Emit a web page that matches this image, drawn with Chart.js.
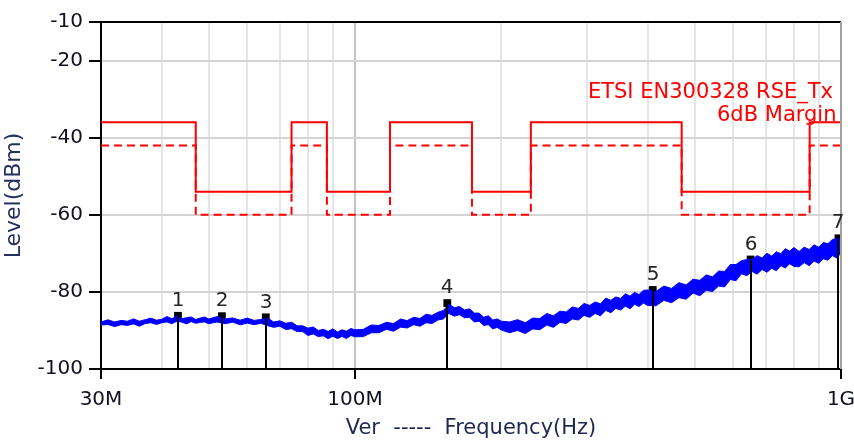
<!DOCTYPE html>
<html>
<head>
<meta charset="utf-8">
<script src="https://cdn.jsdelivr.net/npm/chart.js@4.4.1/dist/chart.umd.min.js"></script>
<style>
  html, body { margin: 0; padding: 0; background: #fff; }
  #wrap { width: 854px; height: 441px; }
</style>
</head>
<body>
<div id="wrap"><canvas id="chart" width="854" height="441"></canvas></div>
<script>
// axis ticks (frequency in MHz)
const xTickValues = [30, 40, 50, 60, 70, 80, 90, 100, 200, 300, 400, 500, 600, 700, 800, 900, 1000];
const xTickLabels = { 30: "30M", 100: "100M", 1000: "1G" };
const yTickValues = [-100, -80, -60, -40, -20, -10];

// ETSI limit and 6dB margin, level changes at these frequencies
const limitFreq = [30, 47, 74, 87.5, 118, 174, 230, 470, 862, 1000];
const limitLevel = [-36, -54, -36, -54, -36, -54, -36, -54, -36, -36];
const marginLevel = [-42, -60, -42, -60, -42, -60, -42, -60, -42, -42];

// measured trace, upper and lower edge of the noise band
const traceFreq = [
  30, 31, 32, 33, 34, 35, 36, 37, 38, 39, 40, 41, 42, 43, 44, 45, 46, 47, 48, 49, 50,
  52, 54, 56, 58, 60, 62, 64, 66, 68, 70, 72, 74, 76, 78, 80, 82, 84, 86, 88, 90, 92, 94, 96, 98, 100,
  104, 108, 112, 116, 120, 124, 128, 132, 136, 140, 144, 148, 152, 156, 160, 164, 168, 172, 176, 180, 184, 188, 192, 196, 200,
  208, 216, 224, 232, 240, 248, 256, 264, 272, 280, 288, 296, 304, 312, 320, 328, 336, 344, 352, 360, 368, 376, 384, 392, 400,
  416, 432, 448, 464, 480, 496, 512, 528, 544, 560, 576, 592, 608, 624, 640, 656, 672, 688, 704, 720, 736, 752, 768, 784, 800,
  820, 840, 860, 880, 900, 920, 940, 960, 980, 1000
];
const traceHigh = [
  -87.8, -87.25, -87.8, -87.4, -87.6, -87.0, -87.6, -87.2, -86.8, -87.35, -87.1, -86.4, -86.95, -86.2, -86.95, -86.7, -86.5, -87.15, -86.8, -86.5, -87.05,
  -86.4, -87.05, -86.75, -87.35, -86.8, -87.4, -87.15, -86.75, -87.8, -87.5, -88.15, -87.85, -88.8, -88.8, -89.4, -89.1, -90.0, -89.7, -90.25, -89.6, -90.4, -89.85, -90.2, -89.5, -89.85,
  -89.7, -88.6, -88.7, -87.9, -88.2, -87.05, -87.45, -86.6, -86.9, -85.8, -86.1, -85.3, -84.8, -83.2, -84.1, -83.8, -84.7, -84.4, -85.5, -85.5, -86.6, -86.2, -87.3, -87.0, -87.6,
  -87.8, -87.2, -88.0, -86.8, -86.9, -85.6, -86.2, -85.0, -85.2, -83.9, -84.3, -83.0, -83.5, -82.6, -83.1, -81.6, -82.2, -81.3, -81.7, -80.5, -81.1, -80.1, -80.7, -79.6, -79.5,
  -79.9, -78.5, -79.1, -77.6, -78.2, -76.7, -77.0, -75.6, -76.1, -74.6, -74.7, -72.9, -72.9, -71.9, -71.6, -71.6, -70.6, -71.2, -70.0, -70.7, -69.6, -70.1, -68.8, -69.4, -68.5,
  -69.5, -68.4, -69.0, -67.8, -68.4, -67.2, -67.5, -66.4, -66.2, -66.2
];
const traceLow = [
  -88.6, -88.45, -89.0, -88.5, -88.7, -88.3, -88.9, -88.2, -88.0, -88.45, -88.0, -87.8, -88.25, -87.6, -87.85, -88.3, -87.7, -88.15, -87.9, -87.8, -88.25,
  -87.8, -88.25, -87.85, -88.55, -88.1, -88.5, -88.15, -88.75, -89.2, -88.9, -89.75, -89.55, -90.3, -90.3, -91.3, -90.9, -91.6, -91.4, -92.15, -91.5, -92.1, -91.55, -92.1, -91.3, -91.65,
  -91.6, -90.6, -90.6, -89.7, -90.2, -89.15, -89.35, -88.5, -88.9, -88.0, -88.2, -87.3, -87.0, -85.6, -86.3, -85.9, -86.7, -86.6, -87.8, -87.6, -88.7, -88.5, -89.6, -89.2, -89.9,
  -90.6, -90.0, -90.8, -89.6, -89.8, -88.6, -89.2, -87.9, -88.2, -87.0, -87.3, -86.1, -86.6, -85.6, -86.2, -84.8, -85.4, -84.3, -84.7, -83.7, -84.4, -83.2, -83.8, -82.9, -83.5,
  -83.6, -82.2, -82.8, -81.5, -81.9, -80.3, -81.0, -79.6, -79.9, -78.5, -78.7, -76.8, -77.1, -75.3, -75.8, -74.7, -75.4, -74.2, -74.9, -73.9, -74.5, -73.2, -73.8, -72.7, -73.4,
  -73.5, -72.4, -73.2, -72.0, -72.6, -71.4, -71.8, -70.6, -71.2, -69.9
];

// peak markers
const markerFreq = [43.2, 53.2, 65.5, 154.8, 409.8, 651.5, 988];
const markerLevel = [-86.2, -86.3, -86.6, -82.9, -79.5, -71.6, -66.1];
const markerLabel = ["1", "2", "3", "4", "5", "6", "7"];

const FONT = "'DejaVu Sans', sans-serif";
const TEXT = "#101020";

const pts = (xs, ys) => xs.map((v, i) => ({ x: v, y: ys[i] }));

// frame, marker stems/numbers and the limit caption
const annotate = {
    id: "annotate",
    afterDatasetsDraw(chart) {
        const { ctx, chartArea: a, scales: { x, y } } = chart;
        ctx.save();

        // top and right frame
        ctx.lineWidth = 2;
        ctx.strokeStyle = "#000";
        ctx.beginPath();
        ctx.moveTo(a.left, a.top);
        ctx.lineTo(a.right, a.top);
        ctx.stroke();
        ctx.strokeStyle = "#a0a0a0";
        ctx.beginPath();
        ctx.moveTo(a.right, a.top);
        ctx.lineTo(a.right, a.bottom);
        ctx.stroke();

        // marker stems and numbers
        ctx.strokeStyle = "#000";
        ctx.fillStyle = "#262626";
        ctx.font = "20px " + FONT;
        ctx.textAlign = "center";
        ctx.textBaseline = "middle";
        markerFreq.forEach((f, i) => {
            const px = Math.round(x.getPixelForValue(f));
            const py = y.getPixelForValue(markerLevel[i]);
            ctx.beginPath();
            ctx.moveTo(px, py);
            ctx.lineTo(px, a.bottom);
            ctx.stroke();
            ctx.fillText(markerLabel[i], px, py - 15);
        });

        // limit caption, clipped to the plot
        ctx.beginPath();
        ctx.rect(a.left, a.top, a.right - a.left, a.bottom - a.top);
        ctx.clip();
        ctx.fillStyle = "#ff0000";
        ctx.font = "21px " + FONT;
        ctx.textAlign = "right";
        ctx.fillText("ETSI EN300328 RSE_Tx", a.right - 8, a.top + 71);
        ctx.textAlign = "left";
        ctx.fillText("6dB Margin", a.right - 124, a.top + 94);
        ctx.restore();
    }
};

new Chart(document.getElementById("chart"), {
    type: "line",
    data: {
        datasets: [
            {
                label: "Ver high",
                data: pts(traceFreq, traceHigh),
                borderColor: "#0000ff",
                borderWidth: 1,
                pointRadius: 0,
                fill: false
            },
            {
                label: "Ver low",
                data: pts(traceFreq, traceLow),
                borderColor: "#0000ff",
                backgroundColor: "#0000ff",
                borderWidth: 1,
                pointRadius: 0,
                fill: "-1"
            },
            {
                label: "ETSI EN300328 RSE_Tx",
                data: pts(limitFreq, limitLevel),
                borderColor: "#ff0000",
                borderWidth: 2,
                pointRadius: 0,
                stepped: "before",
                fill: false
            },
            {
                label: "6dB Margin",
                data: pts(limitFreq, marginLevel),
                borderColor: "#ff0000",
                borderWidth: 2,
                borderDash: [8, 5],
                pointRadius: 0,
                stepped: "before",
                fill: false
            },
            {
                label: "Markers",
                data: pts(markerFreq, markerLevel),
                showLine: false,
                pointStyle: "rect",
                pointRadius: 5.5,
                backgroundColor: "#000",
                borderColor: "#000",
                borderWidth: 0
            }
        ]
    },
    options: {
        responsive: false,
        animation: false,
        events: [],
        layout: { padding: { left: 0, right: 13, top: 22, bottom: 0 } },
        plugins: {
            legend: { display: false },
            tooltip: { enabled: false }
        },
        scales: {
            x: {
                type: "logarithmic",
                min: 30,
                max: 1000,
                afterBuildTicks: s => { s.ticks = xTickValues.map(v => ({ value: v })); },
                afterFit: s => { s.height = 72; s.paddingLeft = 0; s.paddingRight = 0; },
                ticks: {
                    autoSkip: false,
                    maxRotation: 0,
                    padding: 9,
                    color: TEXT,
                    font: { family: FONT, size: 20 },
                    callback: v => xTickLabels[v] || ""
                },
                grid: {
                    color: c => (c.tick && c.tick.value === 100) ? "#c4c4c4" : "#e6e6e6",
                    lineWidth: 2,
                    tickLength: 10,
                    tickWidth: 2,
                    tickColor: c => (c.tick && xTickLabels[c.tick.value]) ? "#000" : "rgba(0,0,0,0)"
                },
                border: { color: "#000", width: 2 },
                title: {
                    display: true,
                    text: "Ver  -----  Frequency(Hz)",
                    color: "#1e2850",
                    font: { family: FONT, size: 21 },
                    padding: { top: 0, bottom: 0 }
                }
            },
            y: {
                min: -100,
                max: -10,
                afterBuildTicks: s => { s.ticks = yTickValues.map(v => ({ value: v })); },
                afterFit: s => { s.width = 101; },
                ticks: {
                    padding: 6,
                    color: TEXT,
                    font: { family: FONT, size: 20 }
                },
                grid: {
                    color: "#d4d4d4",
                    lineWidth: 2,
                    tickLength: 12,
                    tickWidth: 2,
                    tickColor: "#000"
                },
                border: { color: "#000", width: 2 },
                title: {
                    display: true,
                    text: "Level(dBm)",
                    color: "#23305e",
                    font: { family: FONT, size: 22 },
                    padding: { top: 1, bottom: 0 }
                }
            }
        }
    },
    plugins: [annotate]
});
</script>
</body>
</html>
